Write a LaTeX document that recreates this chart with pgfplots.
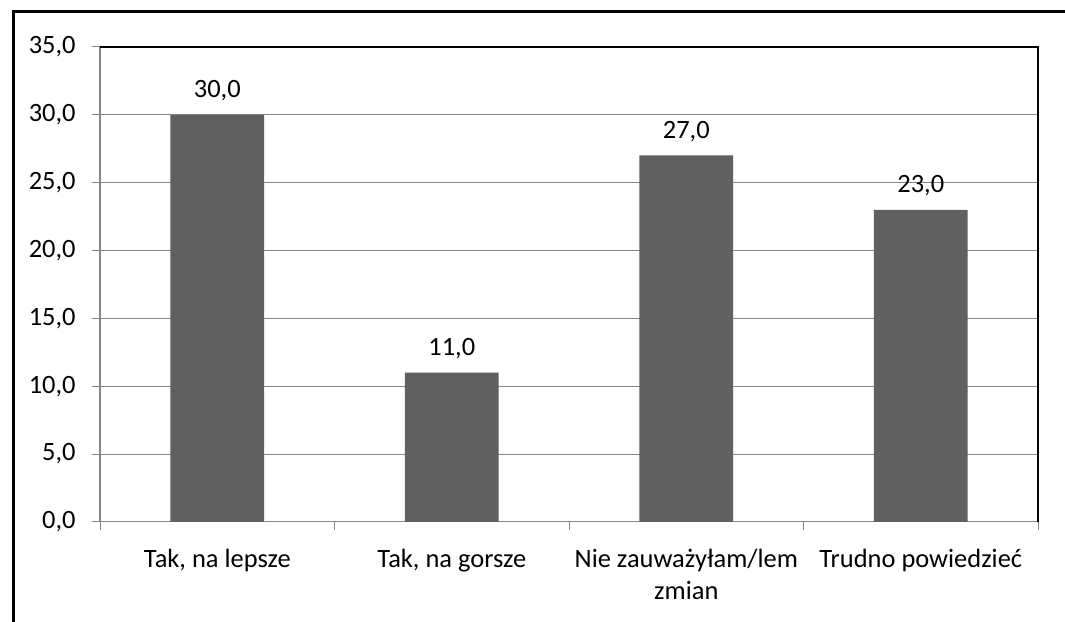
\documentclass[border=0pt]{standalone}
\usepackage{fontspec}
\setmainfont{Carlito}
\usepackage{pgfplots}
\pgfplotsset{compat=1.18}
\definecolor{barc}{RGB}{96,96,96}
\definecolor{gridc}{RGB}{134,134,134}
\begin{document}
\pgfkeys{/pgf/number format/.cd,fixed,fixed zerofill,precision=1,use comma,assume math mode=true}
\begin{tikzpicture}[font=\fontsize{26.5}{32}\selectfont]
\useasboundingbox (0,0) rectangle (1065pt,623pt);
\begin{axis}[
  name=ax,
  at={(98pt,100pt)}, anchor=south west,
  scale only axis, width=940pt, height=476pt,
  xmin=-0.5, xmax=3.5, ymin=0, ymax=35,
  ytick={0,5,...,35},
  xtick={-0.5,0.5,1.5,2.5,3.5},
  xticklabels={},
  extra x ticks={0,1,2,3},
  extra x tick labels={{Tak, na lepsze},{Tak, na gorsze},{Nie zauważyłam/lem\\zmian},{Trudno powiedzieć}},
  extra x tick style={major tick length=0pt, xticklabel style={align=center, anchor=north, yshift=-24pt}},
  yticklabel style={xshift=-13pt},
  ymajorgrids,
  grid style={gridc, line width=1pt},
  axis line style={gridc, line width=1.2pt},
  tick style={gridc, line width=1pt},
  major tick length=8pt,
  tick align=outside,
  xtick pos=bottom, ytick pos=left,
  ybar, bar width=94pt,
  nodes near coords,
  nodes near coords style={anchor=south, yshift=10pt, black},
  tick label style={black},
]
\addplot[fill=barc, draw=none] coordinates {(0,30) (1,11) (2,27) (3,23)};
\end{axis}
\draw[black, line width=1.5pt] (ax.north west) -- (ax.north east) -- (ax.south east);
\draw[black, line width=3pt] (11pt,-40pt) rectangle (1100pt,611.5pt);
\end{tikzpicture}
\end{document}
